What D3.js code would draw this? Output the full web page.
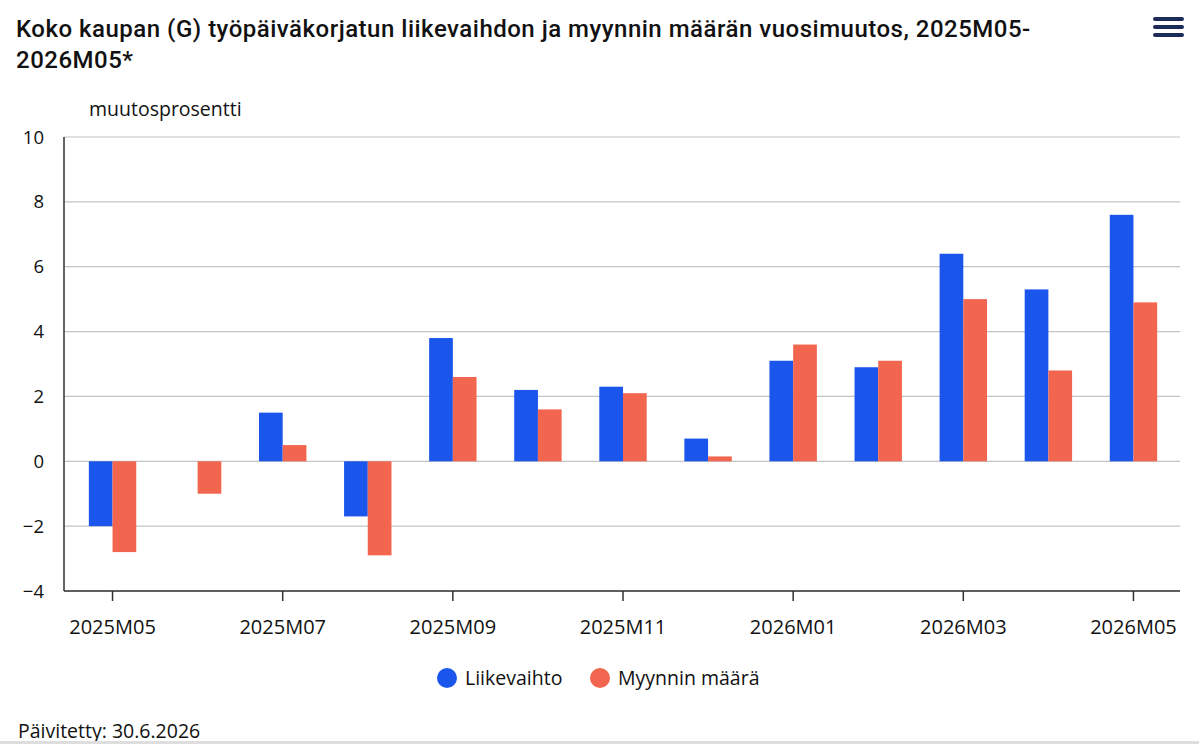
<!DOCTYPE html>
<html>
<head>
<meta charset="utf-8">
<script src="https://cdn.jsdelivr.net/npm/d3@7"></script>
<style>
  body { margin: 0; background: #fff; }
  svg { display: block; font-family: "Open Sans", "Noto Sans", sans-serif; }
</style>
</head>
<body>
<div id="chart"></div>
<script>
const months = ["2025M05", "2025M06", "2025M07", "2025M08", "2025M09", "2025M10", "2025M11",
    "2025M12", "2026M01", "2026M02", "2026M03", "2026M04", "2026M05"];
const liikevaihto = [-2.0, 0, 1.5, -1.7, 3.8, 2.2, 2.3, 0.7, 3.1, 2.9, 6.4, 5.3, 7.6];
const myynninMaara = [-2.8, -1.0, 0.5, -2.9, 2.6, 1.6, 2.1, 0.15, 3.6, 3.1, 5.0, 2.8, 4.9];
const seriesNames = ["Liikevaihto", "Myynnin määrä"];
const yTicks = [-4, -2, 0, 2, 4, 6, 8, 10];

function drawChart() {
    const width = 1199, height = 744;
    const colors = ["#1a56ec", "#f2654e"];

    const svg = d3.select("#chart").append("svg")
        .attr("width", width)
        .attr("height", height);

    // title
    const title = svg.append("text")
        .attr("x", 16)
        .attr("y", 37)
        .style("font-family", "Roboto, sans-serif")
        .style("font-weight", 500)
        .style("font-size", "24px")
        .style("letter-spacing", "0.5px")
        .style("fill", "#111");
    title.append("tspan").attr("x", 16).attr("dy", 0)
        .text("Koko kaupan (G) työpäiväkorjatun liikevaihdon ja myynnin määrän vuosimuutos, 2025M05-");
    title.append("tspan").attr("x", 16).attr("dy", 31)
        .text("2026M05*");

    // menu icon
    [19, 27, 35].forEach(y => {
        svg.append("rect")
            .attr("x", 1153).attr("y", y - 2)
            .attr("width", 31).attr("height", 4)
            .attr("rx", 2)
            .style("fill", "#1c2b57");
    });

    const left = 64, right = 1180, top = 137, bottom = 591;

    const x = d3.scaleBand()
        .domain(months)
        .range([70, 1176])
        .paddingInner(0)
        .paddingOuter(0);

    const y = d3.scaleLinear()
        .domain([-4, 10])
        .range([bottom, top]);

    // gridlines
    svg.append("g")
        .selectAll("line")
        .data(yTicks)
        .join("line")
        .attr("x1", left).attr("x2", right)
        .attr("y1", d => y(d)).attr("y2", d => y(d))
        .style("stroke", "#c4c4c4")
        .style("stroke-width", 1.2);

    // y labels
    svg.append("g")
        .selectAll("text")
        .data(yTicks)
        .join("text")
        .attr("x", 44)
        .attr("y", d => y(d) + 6.5)
        .attr("text-anchor", "end")
        .style("font-size", "18.5px")
        .style("fill", "#111")
        .text(d => d < 0 ? "\u2212" + Math.abs(d) : d);

    svg.append("text")
        .attr("x", 89)
        .attr("y", 116)
        .style("font-size", "19.5px")
        .style("fill", "#111")
        .text("muutosprosentti");

    // bars
    const data = months.map((m, i) => ({ m, vals: [liikevaihto[i], myynninMaara[i]] }));
    const barW = 23.7;
    const groups = svg.append("g")
        .selectAll("g")
        .data(data)
        .join("g")
        .attr("transform", d => `translate(${x(d.m) + x.bandwidth() / 2},0)`);

    groups.selectAll("rect")
        .data(d => d.vals.map((v, k) => ({ v, k })))
        .join("rect")
        .attr("x", d => d.k === 0 ? -barW : 0)
        .attr("width", barW)
        .attr("y", d => y(Math.max(0, d.v)))
        .attr("height", d => Math.abs(y(d.v) - y(0)))
        .style("fill", d => colors[d.k]);

    // axes lines
    svg.append("line")
        .attr("x1", left).attr("x2", left)
        .attr("y1", top).attr("y2", bottom)
        .style("stroke", "#333").style("stroke-width", 1.5);

    svg.append("line")
        .attr("x1", left).attr("x2", right)
        .attr("y1", bottom).attr("y2", bottom)
        .style("stroke", "#333").style("stroke-width", 1.5);

    const shown = months.filter((m, i) => i % 2 === 0);
    const xt = svg.append("g")
        .selectAll("g")
        .data(shown)
        .join("g")
        .attr("transform", d => `translate(${x(d) + x.bandwidth() / 2},0)`);
    xt.append("line")
        .attr("y1", bottom).attr("y2", bottom + 10)
        .style("stroke", "#333").style("stroke-width", 1.5);
    xt.append("text")
        .attr("y", bottom + 43)
        .attr("text-anchor", "middle")
        .style("font-size", "20px")
        .style("fill", "#111")
        .text(d => d);

    // legend
    const legend = svg.append("g");
    const items = [{ cx: 447, tx: 465 }, { cx: 600, tx: 618 }];
    items.forEach((it, k) => {
        legend.append("circle")
            .attr("cx", it.cx).attr("cy", 678).attr("r", 10)
            .style("fill", colors[k]);
        legend.append("text")
            .attr("x", it.tx).attr("y", 685)
            .style("font-size", "19.5px")
            .style("fill", "#111")
            .text(seriesNames[k]);
    });

    svg.append("text")
        .attr("x", 18)
        .attr("y", 738)
        .style("font-size", "19.5px")
        .style("fill", "#111")
        .text("Päivitetty: 30.6.2026");

    svg.append("rect")
        .attr("x", 0).attr("y", 741)
        .attr("width", width).attr("height", 3)
        .style("fill", "#dedede");
}

drawChart();
</script>
</body>
</html>
